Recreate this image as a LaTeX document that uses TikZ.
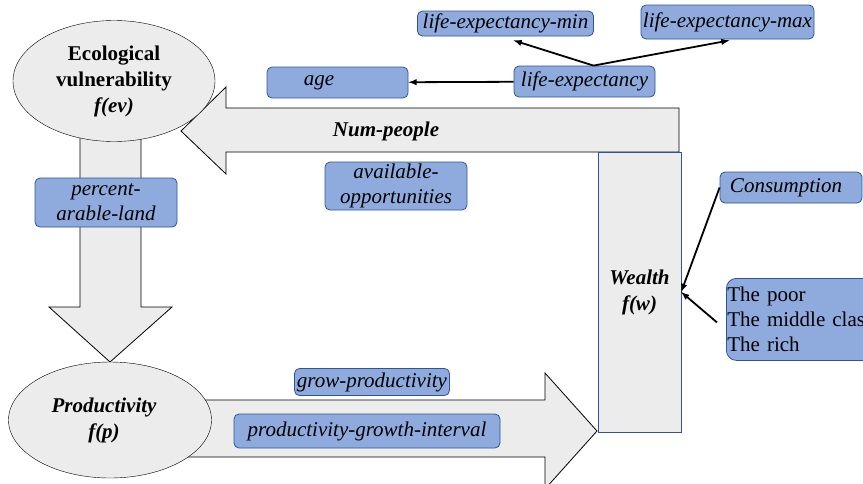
\documentclass[tikz,border=0pt]{standalone}
\usepackage{fontspec}
\setmainfont{Liberation Serif}
\usepackage{pgf,tikz}
\usetikzlibrary{positioning,shapes.geometric}
\definecolor{boxblue}{RGB}{143,170,220}
\definecolor{boxedge}{RGB}{47,85,151}
\definecolor{arrowgray}{RGB}{236,236,236}
\tikzset{
  varbox/.style={draw=boxedge, fill=boxblue, line width=0.8pt, rounded corners=5pt, inner sep=0pt, font=\fontsize{21}{25}\selectfont\itshape, align=center},
  blob/.style={ellipse, draw, fill=arrowgray, inner sep=0pt, font=\fontsize{21}{26}\selectfont\bfseries, align=center},
  bigarrow/.style={draw, fill=arrowgray, line width=0.8pt},
  link/.style={line width=1.8pt, ->, >=latex}
}

\begin{document}
\begin{tikzpicture}[x=1pt,y=-1pt]
\useasboundingbox (0,0) rectangle (863,483);
%----block arrows----%
\draw[bigarrow] (679,108) -- (226,108) -- (226,87) -- (181,131) -- (226,174) -- (226,152) -- (679,152) -- cycle;
\draw[bigarrow] (80,125) -- (80,307) -- (49,307) -- (110,362) -- (172,307) -- (141,307) -- (141,125) -- cycle;
\draw[bigarrow] (170,400) -- (545,400) -- (545,373) -- (597,431) -- (545,489) -- (545,457) -- (170,457) -- cycle;
%----main nodes----%
\draw (114,81) node[blob, minimum width=202, minimum height=121] (eco) {Ecological\\vulnerability\\\textit{f(ev)}};
\draw (110,420) node[blob, minimum width=203, minimum height=116, font=\fontsize{21}{26}\selectfont\bfseries\itshape] (prod) {Productivity\rule{12pt}{0pt}\\f(p)\rule{12pt}{0pt}};
\draw (639.5,292) node[draw=boxedge, fill=arrowgray, minimum width=83, minimum height=280, inner sep=0pt, font=\fontsize{21}{26}\selectfont\bfseries\itshape, align=center] (wealth) {Wealth\\f(w)};
\draw (386,131) node[font=\fontsize{21}{25}\selectfont\bfseries\itshape] (num) {Num-people};
%----variables----%
\draw (337.5,82.5) node[varbox, minimum width=141, minimum height=31] (age) {age\rule{37pt}{0pt}};
\draw (584.5,81.5) node[varbox, minimum width=141, minimum height=31] (lifeexp) {life-expectancy};
\draw (505.5,23.5) node[varbox, minimum width=176, minimum height=25] (lifemin) {life-expectancy-min};
\draw (727.5,22) node[varbox, minimum width=173, minimum height=34] (lifemax) {life-expectancy-max};
\draw (791,187.5) node[varbox, minimum width=142, minimum height=31] (consum) {Consumption\rule{10pt}{0pt}};
\draw (726,278) node[varbox, rounded corners=10pt, anchor=north west, font=\fontsize{21}{25}\selectfont\upshape, align=left, text width=172, minimum height=82, inner xsep=1pt] (classes) {The poor\\The middle class\\The rich};
\draw (106,202.5) node[varbox, minimum width=142, minimum height=49] (arable) {percent-\\arable-land};
\draw (396,186) node[varbox, minimum width=142, minimum height=48] (avail) {available-\\opportunities};
\draw (372,382) node[varbox, minimum width=155, minimum height=27] (grow) {grow-productivity};
\draw (367,431) node[varbox, minimum width=266, minimum height=34] (interval) {productivity-growth-interval};
%----life-expectancy----%
\draw[link] (lifeexp) -- (age);
\draw[link] ([xshift=9]lifeexp.north) -- ([xshift=8,yshift=-4]lifemin.south);
\draw[link] ([xshift=9]lifeexp.north) -- ([xshift=2,yshift=-1]lifemax.south);
%----wealth----%
\draw[link] (consum.west) -- (wealth.east);
\draw[link] ([xshift=-9,yshift=-3]classes.west) -- (wealth.east);
\end{tikzpicture}
\end{document}
